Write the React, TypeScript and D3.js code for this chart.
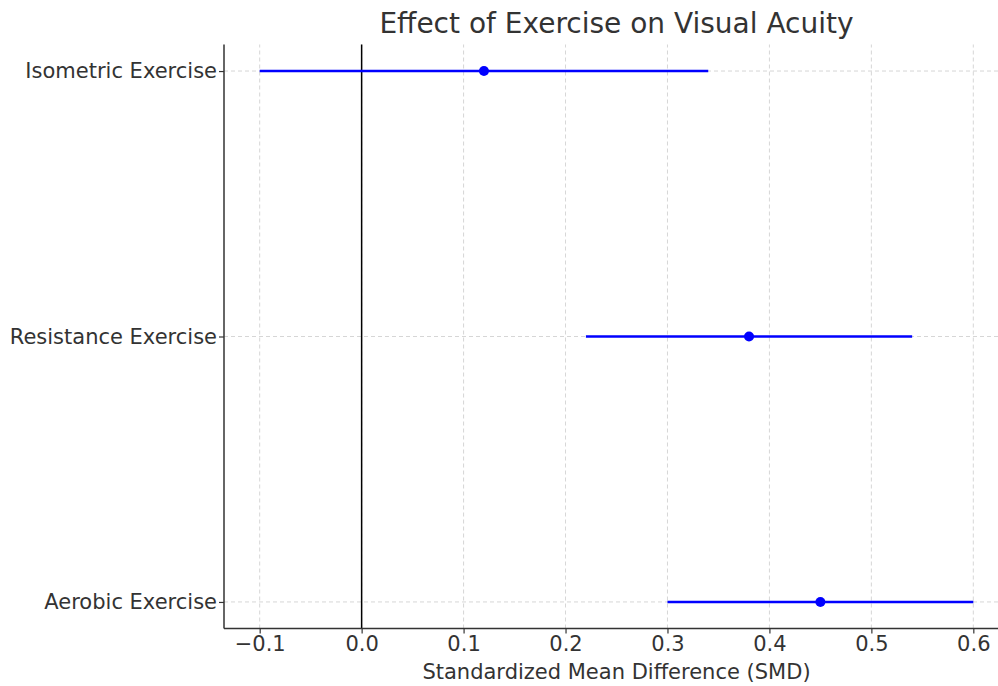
import React, { useEffect, useRef } from "react";
import * as d3 from "d3";

// forest plot data
const categories = ["Aerobic Exercise", "Resistance Exercise", "Isometric Exercise"];
const smd = [0.45, 0.38, 0.12];
const ciLow = [0.3, 0.22, -0.1];
const ciHigh = [0.6, 0.54, 0.34];
const xTicks = [-0.1, 0, 0.1, 0.2, 0.3, 0.4, 0.5, 0.6];

const W = 998;
const H = 686;
const margin = { left: 224, top: 44.5, right: -11, bottom: 57.5 };

const App = () => {
  const svgRef = useRef<SVGSVGElement>(null);

  useEffect(() => {
    const svg = d3.select(svgRef.current);
    svg.selectAll("*").remove();
    const font = "'DejaVu Sans', sans-serif";
    const textColor = "#333";

    const x = d3.scaleLinear().domain([-0.135, 0.635]).range([margin.left, W - margin.right]);
    const y = d3
      .scaleLinear()
      .domain([-0.1, 2.1])
      .range([H - margin.bottom, margin.top]);

    const g = svg.append("g");

    // grid
    g.append("g")
      .selectAll("line")
      .data(xTicks)
      .join("line")
      .attr("x1", (d) => x(d))
      .attr("x2", (d) => x(d))
      .attr("y1", y(-0.1))
      .attr("y2", y(2.1))
      .attr("stroke", "#cccccc")
      .attr("stroke-dasharray", "4,3")
      .attr("stroke-width", 0.8);
    g.append("g")
      .selectAll("line")
      .data(categories)
      .join("line")
      .attr("x1", x(-0.135))
      .attr("x2", W)
      .attr("y1", (_, i) => y(i))
      .attr("y2", (_, i) => y(i))
      .attr("stroke", "#cccccc")
      .attr("stroke-dasharray", "4,3")
      .attr("stroke-width", 0.8);

    // zero line
    g.append("line")
      .attr("x1", x(0))
      .attr("x2", x(0))
      .attr("y1", y(-0.1))
      .attr("y2", y(2.1))
      .attr("stroke", "#000")
      .attr("stroke-width", 1.5);

    // error bars
    g.append("g")
      .selectAll("line")
      .data(categories)
      .join("line")
      .attr("x1", (_, i) => x(ciLow[i]))
      .attr("x2", (_, i) => x(ciHigh[i]))
      .attr("y1", (_, i) => y(i))
      .attr("y2", (_, i) => y(i))
      .attr("stroke", "#0000ff")
      .attr("stroke-width", 2.5);

    g.append("g")
      .selectAll("circle")
      .data(categories)
      .join("circle")
      .attr("cx", (_, i) => x(smd[i]))
      .attr("cy", (_, i) => y(i))
      .attr("r", 5)
      .attr("fill", "#0000ff");

    // axes
    const xAxis = d3
      .axisBottom(x)
      .tickValues(xTicks)
      .tickFormat((d) => d3.format(".1f")(d as number).replace("-", "\u2212"))
      .tickSize(5)
      .tickPadding(3);
    const xg = g
      .append("g")
      .attr("transform", `translate(0,${y(-0.1)})`)
      .call(xAxis);
    xg.select(".domain").attr("d", `M${x(-0.135)},0H${W}`).attr("stroke", textColor).attr("stroke-width", 1.5);

    const yAxis = d3
      .axisLeft(y)
      .tickValues([0, 1, 2])
      .tickFormat((d) => categories[d as number])
      .tickSize(5)
      .tickPadding(2);
    const yg = g.append("g").attr("transform", `translate(${x(-0.135)},0)`).call(yAxis);
    yg.select(".domain").attr("d", `M0,${y(-0.1)}V${y(2.1)}`).attr("stroke", textColor).attr("stroke-width", 1.5);

    [xg, yg].forEach((a) => {
      a.selectAll(".tick line").attr("stroke", textColor).attr("stroke-width", 1.2);
      a.selectAll(".tick text")
        .attr("fill", textColor)
        .style("font-family", font)
        .style("font-size", "21px");
    });

    // labels
    svg
      .append("text")
      .attr("x", x(0.25))
      .attr("y", 33)
      .attr("text-anchor", "middle")
      .attr("fill", textColor)
      .style("font-family", font)
      .style("font-size", "28px")
      .text("Effect of Exercise on Visual Acuity");

    svg
      .append("text")
      .attr("x", x(0.25))
      .attr("y", 679)
      .attr("text-anchor", "middle")
      .attr("fill", textColor)
      .style("font-family", font)
      .style("font-size", "21px")
      .text("Standardized Mean Difference (SMD)");
  }, []);

  return (
    <div style={{ position: "absolute", left: 0, top: 0 }}>
      <svg ref={svgRef} width={W} height={H} style={{ display: "block" }} />
    </div>
  );
};

export default App;
